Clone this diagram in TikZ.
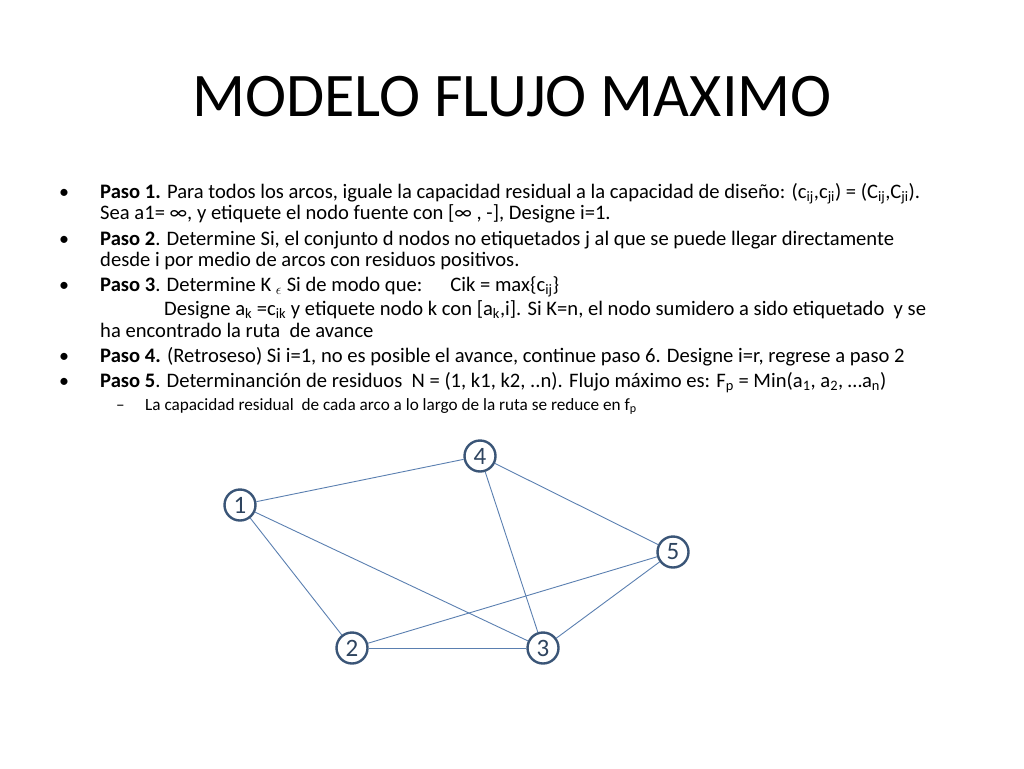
\documentclass[tikz,border=0pt]{standalone}
\usepackage{fontspec}
\setmainfont{Carlito}
\begin{document}
\begin{tikzpicture}[x=1pt,y=-1pt,
  txt/.style={anchor=base west,inner sep=0pt,font=\fontsize{20.6}{22}\selectfont},
  sub/.style={anchor=base west,inner sep=0pt,font=\fontsize{17.2}{19}\selectfont},
  bul/.style={anchor=base,inner sep=0pt,font=\fontsize{20}{22}\selectfont},
  vtx/.style={circle,draw=nodeblue,line width=2.4pt,fill=white,minimum size=31pt,inner sep=0pt,text=nodeblue!80!black,font=\fontsize{25}{26}\selectfont},
  edge/.style={draw=lineblue,line width=0.9pt}]
\definecolor{nodeblue}{HTML}{3A5577}
\definecolor{lineblue}{HTML}{5A7FB0}
\useasboundingbox (0,0) rectangle (1024,768);
\node[anchor=center,font=\fontsize{62}{66}\selectfont] (title) at (512,97) {MODELO FLUJO MAXIMO};
\node[bul] (b1) at (64,198) {•};
\node[txt] (l1) at (100,198) {\textbf{Paso 1.} Para todos los arcos, iguale la capacidad residual a la capacidad de diseño: (c\textsubscript{ij},c\textsubscript{ji}) = (C\textsubscript{ij},C\textsubscript{ji}).};
\node[txt] (l2) at (100,219) {Sea a1= ∞, y etiquete el nodo fuente con [∞ , -], Designe i=1.};
\node[bul] (b2) at (64,245) {•};
\node[txt] (l3) at (100,245) {\textbf{Paso 2}. Determine Si, el conjunto d nodos no etiquetados j al que se puede llegar directamente};
\node[txt] (l4) at (100,266) {desde i por medio de arcos con residuos positivos.};
\node[bul] (b3) at (64,291) {•};
\node[txt] (l5) at (100,291) {\textbf{Paso 3}. Determine K \textsubscript{$\epsilon$} Si de modo que:\hspace{28pt}Cik = max\{c\textsubscript{ij}\}};
\node[txt] (l6) at (164,315) {Designe a\textsubscript{k} =c\textsubscript{ik} y etiquete nodo k con [a\textsubscript{k},i]. Si K=n, el nodo sumidero a sido etiquetado\ \ y se};
\node[txt] (l7) at (100,337) {ha encontrado la ruta\ \ de avance};
\node[bul] (b4) at (64,362) {•};
\node[txt] (l8) at (100,362) {\textbf{Paso 4.} (Retroseso) Si i=1, no es posible el avance, continue paso 6. Designe i=r, regrese a paso 2};
\node[bul] (b5) at (64,387) {•};
\node[txt] (l9) at (100,387) {\textbf{Paso 5}. Determinanción de residuos\ \ N = (1, k1, k2, ..n). Flujo máximo es: F\textsubscript{p} = Min(a\textsubscript{1}, a\textsubscript{2}, …a\textsubscript{n})};
\node[sub] (d1) at (116,410) {–};
\node[sub] (l10) at (145,410) {La capacidad residual\ \ de cada arco a lo largo de la ruta se reduce en f\textsubscript{p}};
\node[vtx] (n1) at (240,505) {1};
\node[vtx] (n2) at (352,648) {2};
\node[vtx] (n3) at (543,648) {3};
\node[vtx] (n4) at (480,456) {4};
\node[vtx] (n5) at (673,552) {5};
\draw[edge] (n1) -- (n4);
\draw[edge] (n1) -- (n2);
\draw[edge] (n1) -- (n3);
\draw[edge] (n4) -- (n3);
\draw[edge] (n4) -- (n5);
\draw[edge] (n2) -- (n5);
\draw[edge] (n2) -- (n3);
\draw[edge] (n3) -- (n5);
\end{tikzpicture}
\end{document}
